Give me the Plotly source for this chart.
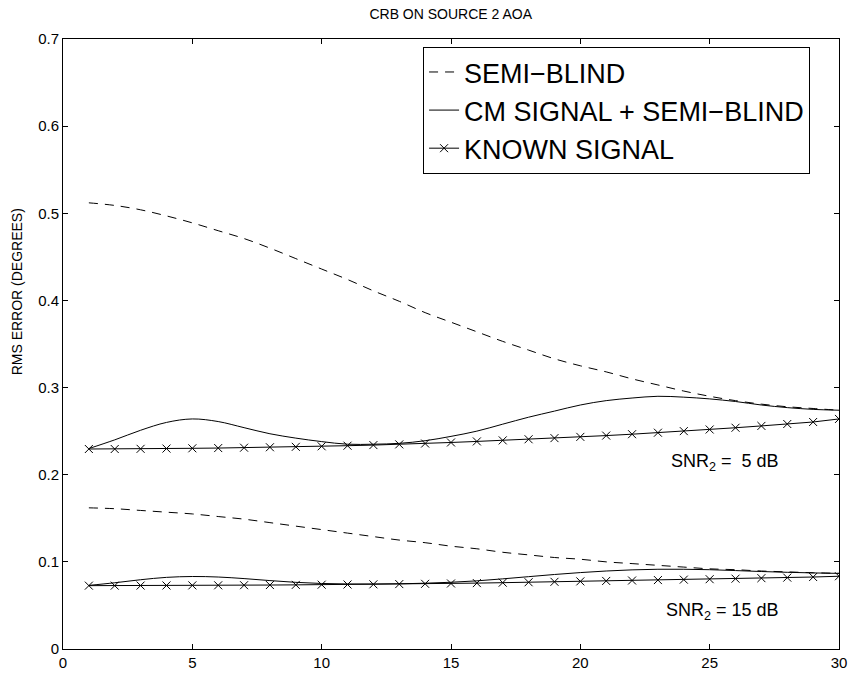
import plotly.graph_objects as go

x_vals = list(range(1, 31))

semi_blind_5 = [0.512, 0.509, 0.504, 0.497, 0.489, 0.480, 0.471, 0.460, 0.448, 0.436,
                0.424, 0.411, 0.399, 0.386, 0.375, 0.364, 0.353, 0.343, 0.333, 0.325,
                0.318, 0.310, 0.303, 0.296, 0.290, 0.285, 0.281, 0.278, 0.276, 0.274]
cm_semi_blind_5 = [0.230, 0.240, 0.251, 0.260, 0.264, 0.261, 0.254, 0.247, 0.242, 0.238,
                   0.235, 0.235, 0.236, 0.239, 0.244, 0.250, 0.258, 0.266, 0.273, 0.280,
                   0.285, 0.288, 0.290, 0.289, 0.287, 0.284, 0.280, 0.277, 0.275, 0.274]
known_5 = [0.2295, 0.2295, 0.2297, 0.2300, 0.2303, 0.2306, 0.2310, 0.2315, 0.2320, 0.2326,
           0.2333, 0.2340, 0.2348, 0.2358, 0.2370, 0.2382, 0.2394, 0.2407, 0.2420, 0.2434,
           0.2449, 0.2465, 0.2482, 0.2500, 0.2519, 0.2539, 0.2560, 0.2582, 0.2605, 0.2640]

semi_blind_15 = [0.162, 0.161, 0.159, 0.157, 0.155, 0.152, 0.149, 0.145, 0.141, 0.137,
                 0.133, 0.129, 0.125, 0.122, 0.118, 0.115, 0.111, 0.108, 0.105, 0.103,
                 0.100, 0.098, 0.096, 0.094, 0.092, 0.091, 0.0895, 0.0885, 0.0875, 0.0868]
cm_semi_blind_15 = [0.0730, 0.0760, 0.0795, 0.0822, 0.0832, 0.0826, 0.0808, 0.0785, 0.0765, 0.0752,
                    0.0746, 0.0745, 0.0748, 0.0755, 0.0766, 0.0782, 0.0805, 0.0830, 0.0855, 0.0877,
                    0.0895, 0.0908, 0.0915, 0.0915, 0.0910, 0.0900, 0.0889, 0.0880, 0.0873, 0.0868]
known_15 = [0.0727, 0.0727, 0.0728, 0.0729, 0.0730, 0.0731, 0.0732, 0.0734, 0.0736, 0.0738,
            0.0740, 0.0742, 0.0745, 0.0748, 0.0752, 0.0756, 0.0761, 0.0766, 0.0771, 0.0776,
            0.0781, 0.0786, 0.0791, 0.0796, 0.0801, 0.0807, 0.0813, 0.0819, 0.0826, 0.0835]

names = ["SEMI\u2212BLIND", "CM SIGNAL + SEMI\u2212BLIND", "KNOWN SIGNAL"]
x_ticks = [0, 5, 10, 15, 20, 25, 30]
y_ticks = [0, 0.1, 0.2, 0.3, 0.4, 0.5, 0.6, 0.7]
y_tick_text = ["0", "0.1", "0.2", "0.3", "0.4", "0.5", "0.6", "0.7"]
snr_labels = ["SNR<sub>2</sub> =  5 dB", "SNR<sub>2</sub> = 15 dB"]

FONT = "Liberation Sans, Arial, Helvetica, sans-serif"
fig = go.Figure()

def add_group(sb, cm, kn, show):
    fig.add_trace(go.Scatter(x=x_vals, y=sb, mode="lines", name=names[0], legendgroup="sb",
                             showlegend=show, line=dict(color="black", width=1, dash="9px,7px", shape="spline")))
    fig.add_trace(go.Scatter(x=x_vals, y=cm, mode="lines", name=names[1], legendgroup="cm",
                             showlegend=show, line=dict(color="black", width=1, shape="spline")))
    fig.add_trace(go.Scatter(x=x_vals, y=kn, mode="lines+markers", name=names[2], legendgroup="kn",
                             showlegend=show, line=dict(color="black", width=1),
                             marker=dict(symbol="x-thin", size=8, color="black",
                                         line=dict(color="black", width=1))))

add_group(semi_blind_5, cm_semi_blind_5, known_5, True)
add_group(semi_blind_15, cm_semi_blind_15, known_15, False)

fig.add_annotation(x=25.6, y=0.2135, xref="x", yref="y", text=snr_labels[0], showarrow=False,
                   font=dict(size=18, color="black", family=FONT))
fig.add_annotation(x=25.5, y=0.0425, xref="x", yref="y", text=snr_labels[1], showarrow=False,
                   font=dict(size=18, color="black", family=FONT))
fig.add_annotation(x=-0.059, y=0.585, xref="paper", yref="paper", text="RMS ERROR (DEGREES)",
                   textangle=-90, showarrow=False, xanchor="center", yanchor="middle",
                   font=dict(size=14, color="black", family=FONT))

fig.update_layout(
    template="none",
    width=852, height=678,
    margin=dict(l=63, r=13, t=39, b=29, autoexpand=False),
    paper_bgcolor="white", plot_bgcolor="white",
    font=dict(family=FONT, color="black"),
    title=dict(text="CRB ON SOURCE 2 AOA", x=0.529, xanchor="center", y=0.979, yanchor="middle",
               font=dict(size=14, color="black", family=FONT)),
    legend=dict(x=0.464, y=0.987, xanchor="left", yanchor="top", bgcolor="white",
                bordercolor="black", borderwidth=1, font=dict(size=27, color="black", family=FONT),
                itemwidth=30, tracegroupgap=0),
    showlegend=True,
)
fig.update_xaxes(range=[0, 30], tickvals=x_ticks, ticks="inside", ticklen=5, showline=True,
                 linecolor="black", linewidth=1, mirror="ticks", showgrid=False, zeroline=False,
                 automargin=False, tickcolor="black", tickfont=dict(size=15, color="black"))
fig.update_yaxes(range=[0, 0.7], tickvals=y_ticks, ticktext=y_tick_text, ticks="inside", ticklen=5,
                 showline=True, linecolor="black", linewidth=1, mirror="ticks", showgrid=False,
                 zeroline=False, automargin=False, tickcolor="black", tickfont=dict(size=15, color="black"))

fig.write_html("out.html")
